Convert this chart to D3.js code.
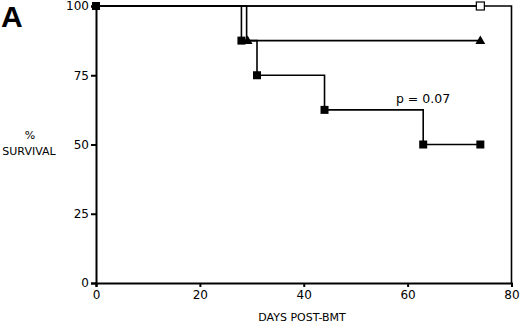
<!DOCTYPE html>
<html><head><meta charset="utf-8">
<script src="https://cdn.jsdelivr.net/npm/d3@7"></script>
<style>body{margin:0;background:#fff}svg{display:block}</style>
</head><body>
<svg id="c" width="520" height="324"></svg>
<script>
const xTicks = [0, 20, 40, 60, 80];
const yTicks = [0, 25, 50, 75, 100];
const filledDays = [0, 28, 31, 44, 63, 74];
const filledSurv = [100, 87.5, 75, 62.5, 50, 50];
const triDays = [0, 29, 74];
const triSurv = [100, 87.5, 87.5];
const openDays = [0, 74];
const openSurv = [100, 100];
const pLabel = "p = 0.07";

const svg = d3.select("#c");
const x = d3.scaleLinear().domain([0, 80]).range([96, 511.5]);
const y = d3.scaleLinear().domain([0, 100]).range([283, 6]);
const font = "'DejaVu Sans', Verdana, sans-serif";

// frame (top + right)
svg.append("path")
  .attr("d", `M${x(0)},${y(100)}H${x(80)}V${y(0)}`)
  .attr("fill", "none").attr("stroke", "#000").attr("stroke-width", 1.6);

const xa = svg.append("g").attr("transform", `translate(0,${y(0)})`)
  .call(d3.axisBottom(x).tickValues(xTicks).tickSize(4).tickPadding(3));
const ya = svg.append("g").attr("transform", `translate(${x(0)},0)`)
  .call(d3.axisLeft(y).tickValues(yTicks).tickSize(5).tickPadding(2));
[xa, ya].forEach(a => {
  a.select(".domain").attr("stroke-width", 2);
  a.selectAll(".tick line").attr("stroke-width", 2);
  a.selectAll("text").attr("font-family", font).attr("font-size", 12).attr("fill", "#000");
});

const line = d3.line().x(d => x(d[0])).y(d => y(d[1])).curve(d3.curveStepAfter);
const series = [
  {days: openDays, surv: openSurv},
  {days: triDays, surv: triSurv},
  {days: filledDays, surv: filledSurv}
];
series.forEach(s => {
  const pts = s.days.map((d, i) => [d, s.surv[i]]);
  svg.append("path").attr("d", line(pts)).attr("fill", "none")
    .attr("stroke", "#000").attr("stroke-width", 1.6);
});

// markers
const sq = 8;
svg.append("rect").attr("x", x(openDays[1]) - sq/2).attr("y", y(openSurv[1]) - sq/2)
  .attr("width", sq).attr("height", sq).attr("fill", "#fff").attr("stroke", "#000").attr("stroke-width", 1.2);
svg.selectAll(".tri").data(triDays.slice(1).map((d, i) => [d, triSurv[i+1]])).enter()
  .append("path")
  .attr("d", d3.symbol().type(d3.symbolTriangle).size(42))
  .attr("transform", d => `translate(${x(d[0]) + (d[0] === 29 ? 1 : 0)},${y(d[1]) + 0.5})`)
  .attr("fill", "#000");
svg.selectAll(".fsq").data(filledDays.map((d, i) => [d, filledSurv[i]])).enter()
  .append("rect")
  .attr("x", d => x(d[0]) - sq/2).attr("y", d => y(d[1]) - sq/2)
  .attr("width", sq).attr("height", sq).attr("fill", "#000");

// texts
svg.append("text").attr("x", 423).attr("y", 103).attr("text-anchor", "middle")
  .attr("font-family", font).attr("font-size", 12.5).text(pLabel);
svg.append("text").attr("x", 302).attr("y", 321).attr("text-anchor", "middle")
  .attr("font-family", font).attr("font-size", 11).text("DAYS POST-BMT");
svg.append("text").attr("x", 30).attr("y", 139).attr("text-anchor", "middle")
  .attr("font-family", font).attr("font-size", 11).text("%");
svg.append("text").attr("x", 29).attr("y", 155).attr("text-anchor", "middle")
  .attr("font-family", font).attr("font-size", 11).text("SURVIVAL");
svg.append("text").attr("x", 1).attr("y", 27)
  .attr("font-family", "'Liberation Sans', Arial, sans-serif").attr("font-weight", "bold")
  .attr("font-size", 30).text("A");
</script>
</body></html>
